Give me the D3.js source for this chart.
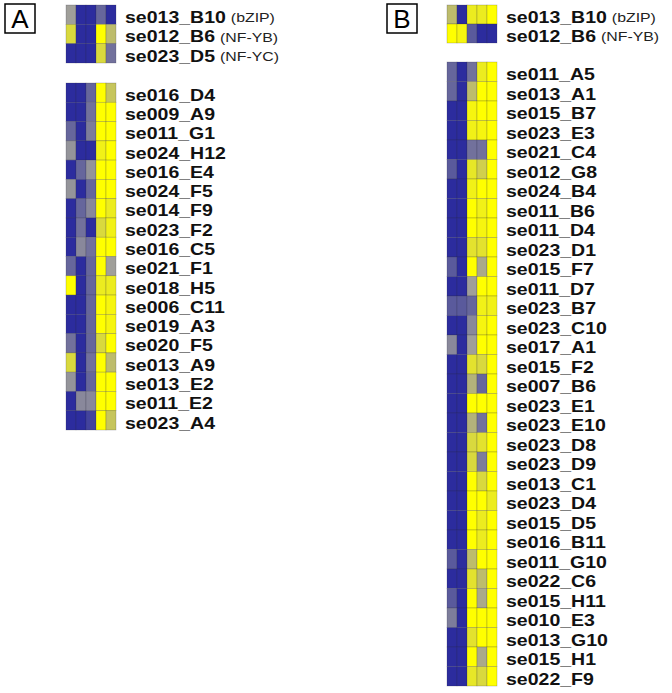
<!DOCTYPE html>
<html>
<head>
<meta charset="utf-8">
<script src="https://cdn.jsdelivr.net/npm/d3@7"></script>
<style>
  body { margin: 0; background: #fff; }
  svg { display: block; }
</style>
</head>
<body>
<div id="chart"></div>
<script>
// ---- data ----
var colsA = ["c1", "c2", "c3", "c4", "c5"];

var rowsA_top = ["se013_B10", "se012_B6", "se023_D5"];
var tagsA_top = ["(bZIP)", "(NF-YB)", "(NF-YC)"];
var valsA_top = [
  [0.0, -1, -1, -0.5, -1],
  [0.6, -1, -1, 1, 0.3],
  [-1, -1, -1, 0.6, -0.4]
];

var rowsA = ["se016_D4", "se009_A9", "se011_G1", "se024_H12", "se016_E4", "se024_F5",
  "se014_F9", "se023_F2", "se016_C5", "se021_F1", "se018_H5", "se006_C11",
  "se019_A3", "se020_F5", "se013_A9", "se013_E2", "se011_E2", "se023_A4"];
var valsA = [
  [-1, -1, -0.5, 1, 0.4],
  [-1, -1, -0.4, 1, 1],
  [-0.5, -1, -0.3, 1, 1],
  [-0.1, -1, -1, 0.85, 1],
  [-1, -0.5, -0.1, 1, 1],
  [-0.1, -1, -0.5, 1, 1],
  [-1, -0.5, -0.2, 1, 0.8],
  [-1, -0.4, -1, 0.6, 0.85],
  [-1, -0.2, -0.4, 1, 1],
  [-0.5, -1, -0.5, 1, 0.0],
  [1, -1, -0.5, 0.8, 0.8],
  [-1, -1, -0.5, 1, 0.9],
  [-1, -1, -0.5, 1, 0.9],
  [-0.4, -1, -0.5, 0.6, 1],
  [0.6, -1, -0.4, 1, 0.3],
  [-0.1, -1, -0.5, 1, 1],
  [-1, -0.2, -0.2, 1, 1],
  [-1, -1, -0.8, 1, 0.4]
];

var rowsB_top = ["se013_B10", "se012_B6"];
var tagsB_top = ["(bZIP)", "(NF-YB)"];
var valsB_top = [
  [0.3, -1, 0.8, 0.8, 1],
  [1, 0.9, -0.6, -1, -1]
];

var rowsB = ["se011_A5", "se013_A1", "se015_B7", "se023_E3", "se021_C4", "se012_G8",
  "se024_B4", "se011_B6", "se011_D4", "se023_D1", "se015_F7", "se011_D7",
  "se023_B7", "se023_C10", "se017_A1", "se015_F2", "se007_B6", "se023_E1",
  "se023_E10", "se023_D8", "se023_D9", "se013_C1", "se023_D4", "se015_D5",
  "se016_B11", "se011_G10", "se022_C6", "se015_H11", "se010_E3", "se013_G10",
  "se015_H1", "se022_F9"];
var valsB = [
  [-0.5, -1, -0.4, 0.8, 1],
  [-0.5, -1, 0.3, 1, 1],
  [-1, -1, 0.9, 1, 1],
  [-1, -1, 0.85, 0.9, 1],
  [-1, -1, -0.4, -0.4, 1],
  [-0.6, -1, 0.75, 0.5, 1],
  [-1, -1, 0.85, 1, 1],
  [-1, -1, 1, 0.85, 1],
  [-1, -1, 1, 0.9, 1],
  [-1, -1, 0.7, 0.7, 1],
  [-0.6, -1, 1, 0.1, 1],
  [-1, -1, 0.0, 1, 1],
  [-0.6, -0.6, -0.5, 0.85, 0.85],
  [-1, -1, -0.2, 0.9, 1],
  [-0.2, -1, 0.0, 1, 1],
  [-1, -1, 0.7, 0.6, 1],
  [-1, -1, 0.2, -0.5, 1],
  [-1, -1, 1, 1, 1],
  [-1, -1, 0.2, -0.4, 1],
  [-1, -1, 0.6, 0.7, 1],
  [-1, -1, 0.6, -0.3, 1],
  [-1, -1, 1, 0.6, 1],
  [-1, -1, 1, 1, 0.8],
  [-1, -1, 1, 0.8, 1],
  [-1, -1, 1, 0.8, 1],
  [-0.6, -1, 0.3, 1, 1],
  [-1, -1, 0.7, 0.3, 1],
  [-0.6, -1, 1, 0.1, 1],
  [-0.3, -1, 1, 1, 1],
  [-1, -1, 0.7, 1, 1],
  [-1, -1, 1, 0.1, 1],
  [-1, -1, 0.75, 0.6, 1]
];

// ---- svg ----
var width = 672, height = 693;
var svg = d3.select("#chart").append("svg")
    .attr("width", width)
    .attr("height", height);

var color = d3.scaleLinear()
    .domain([-1, 0, 1])
    .range(["#2c2c9e", "#a09f9a", "#ffff00"])
    .clamp(true);

var sx = 1.22; // labels in the figure are stretched horizontally

function heat(x0, y0, y1, rows, vals, tags) {
  var x = d3.scaleBand().domain(colsA).range([x0, x0 + 50]);
  var y = d3.scaleBand().domain(rows).range([y0, y1]);
  var g = svg.append("g");

  rows.forEach(function(r, i) {
    g.selectAll(null)
      .data(vals[i])
      .enter()
      .append("rect")
        .attr("x", function(d, j) { return x(colsA[j]); })
        .attr("y", y(r))
        .attr("width", x.bandwidth())
        .attr("height", y.bandwidth())
        .attr("fill", function(d) { return color(d); })
        .attr("stroke", "rgba(40,40,60,0.35)")
        .attr("stroke-width", 0.6);
  });

  var lx = x0 + 59;
  var lab = g.selectAll(".lab")
    .data(rows)
    .enter()
    .append("text")
      .attr("class", "lab")
      .attr("transform", function(d) {
        return "translate(" + lx + "," + (y(d) + y.bandwidth() - 1.5) + ") scale(" + sx + ",1)";
      })
      .attr("font-family", "Liberation Sans, Arial, sans-serif")
      .attr("font-weight", "bold")
      .attr("font-size", "16px")
      .attr("fill", "#111")
      .text(function(d) { return d; });

  if (tags) {
    lab.each(function(d, i) {
      var w = this.getComputedTextLength() * sx;
      g.append("text")
        .attr("transform", "translate(" + (lx + w + 5) + "," + (y(d) + y.bandwidth() - 2) + ") scale(" + sx + ",1)")
        .attr("font-family", "Liberation Sans, Arial, sans-serif")
        .attr("font-size", "13px")
        .attr("fill", "#222")
        .text(tags[i]);
    });
  }
}

function panelLetter(x, y, s) {
  svg.append("rect")
    .attr("x", x).attr("y", y)
    .attr("width", 30).attr("height", 29)
    .attr("fill", "none")
    .attr("stroke", "#000")
    .attr("stroke-width", 1.5);
  svg.append("text")
    .attr("x", x + 15).attr("y", y + 24)
    .attr("text-anchor", "middle")
    .attr("font-family", "Liberation Sans, Arial, sans-serif")
    .attr("font-size", "26px")
    .text(s);
}

panelLetter(5, 4, "A");
panelLetter(387, 4, "B");

heat(66, 5, 63, rowsA_top, valsA_top, tagsA_top);
heat(66, 83, 430, rowsA, valsA);
heat(447, 5, 43, rowsB_top, valsB_top, tagsB_top);
heat(447, 62, 686, rowsB, valsB);
</script>
</body>
</html>
